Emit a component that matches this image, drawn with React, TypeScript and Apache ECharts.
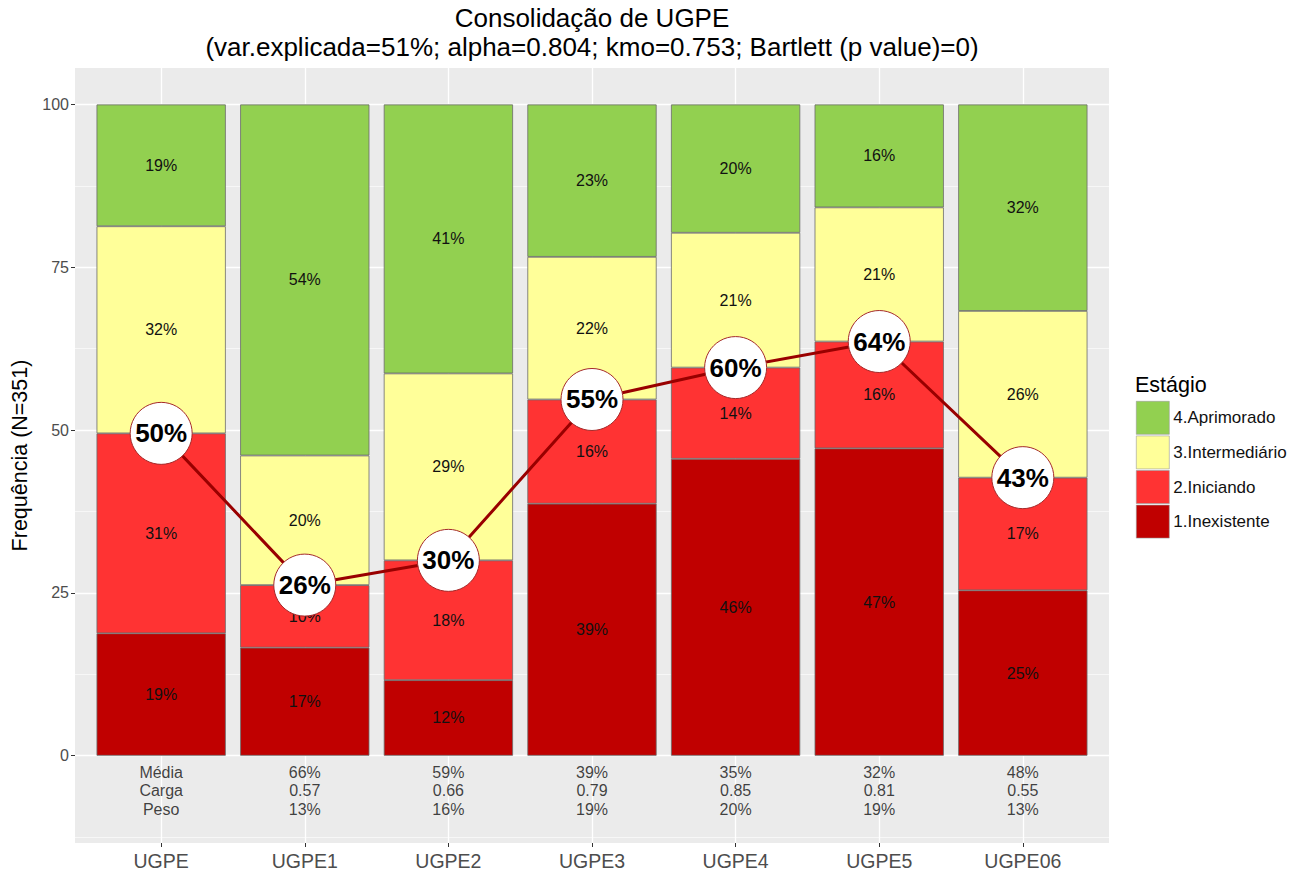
import React, { useEffect, useRef } from "react";
import * as echarts from "echarts";

const categories = ["UGPE", "UGPE1", "UGPE2", "UGPE3", "UGPE4", "UGPE5", "UGPE06"];
const inexistente = [18.8, 16.6, 11.6, 38.7, 45.6, 47.2, 25.4];
const iniciando = [30.7, 9.6, 18.4, 16.0, 14.0, 16.4, 17.3];
const intermediario = [31.8, 19.9, 28.7, 21.9, 20.7, 20.6, 25.6];
const aprimorado = [18.7, 53.9, 41.3, 23.4, 19.7, 15.8, 31.7];
const consolidacao = [49.5, 26.2, 30.0, 54.7, 59.6, 63.6, 42.7];

const tableRowNames = ["Média", "Carga", "Peso"];
const media = [66, 59, 39, 35, 32, 48];
const carga = [0.57, 0.66, 0.79, 0.85, 0.81, 0.55];
const peso = [13, 16, 19, 20, 19, 13];

const yTicks = [0, 25, 50, 75, 100];
const yMinor = [-12.5, 12.5, 37.5, 62.5, 87.5];

const FONT = "'Liberation Sans', Arial, Helvetica, sans-serif";

const Y_MIN = -13.4;
const Y_MAX = 105.6;
const X_MIN = -0.6;
const X_MAX = 6.6;
const PANEL_LEFT = 75;
const PANEL_RIGHT = 1109;
const UNIT = (PANEL_RIGHT - PANEL_LEFT) / (X_MAX - X_MIN);
const BAR_LEFT = PANEL_LEFT + (-0.5 - X_MIN) * UNIT;
const BAR_RIGHT = BAR_LEFT + categories.length * UNIT;

export default function App() {
  const ref = useRef<HTMLDivElement>(null);
  useEffect(() => {
    if (!ref.current) return;
    const chart = echarts.init(ref.current, undefined, { renderer: "svg" });
    const xIdx = categories.map((_, i) => i);
    const stackSeries = [
      { name: "1.Inexistente", data: inexistente, color: "#C00000" },
      { name: "2.Iniciando", data: iniciando, color: "#FF3333" },
      { name: "3.Intermediário", data: intermediario, color: "#FFFF99" },
      { name: "4.Aprimorado", data: aprimorado, color: "#92D050" },
    ].map((s) => ({
      name: s.name,
      type: "bar",
      stack: "total",
      xAxisIndex: 1,
      yAxisIndex: 1,
      barWidth: "90%",
      z: 2,
      data: s.data,
      itemStyle: { color: s.color, borderColor: "#6b6b6b", borderWidth: 0.8 },
      label: {
        show: true,
        position: "inside",
        color: "#111",
        fontSize: 16,
        fontFamily: FONT,
        formatter: (p: any) => Math.round(p.value) + "%",
      },
    }));

    const tableValues = [
      media.map((v) => v + "%"),
      carga.map((v) => v.toFixed(2)),
      peso.map((v) => v + "%"),
    ];
    const tableRowY = [-2.5, -5.4, -8.3];
    const tableSeries = tableRowNames.map((name, r) => ({
      name: "table" + r,
      type: "scatter",
      symbolSize: 1,
      z: 3,
      silent: true,
      itemStyle: { color: "rgba(0,0,0,0)" },
      data: xIdx.map((i) => [i, tableRowY[r]]),
      label: {
        show: true,
        position: "inside",
        color: "#111",
        fontSize: 16,
        fontFamily: FONT,
        formatter: (p: any) => (p.dataIndex === 0 ? name : tableValues[r][p.dataIndex - 1]),
      },
    }));

    const gridLines = {
      type: "scatter",
      name: "grid",
      data: [],
      z: 0,
      silent: true,
      markLine: {
        silent: true,
        z: 0,
        symbol: "none",
        animation: false,
        label: { show: false },
        data: [
          ...yMinor.map((v) => ({ yAxis: v, lineStyle: { color: "#ffffff", width: 0.6, type: "solid" } })),
          ...yTicks.map((v) => ({ yAxis: v, lineStyle: { color: "#ffffff", width: 1.3, type: "solid" } })),
          ...xIdx.map((v) => ({ xAxis: v, lineStyle: { color: "#ffffff", width: 1.3, type: "solid" } })),
        ],
      },
    };

    const option: any = {
      animation: false,
      textStyle: { fontFamily: FONT },
      grid: [
        {
          left: PANEL_LEFT,
          right: 1301 - PANEL_RIGHT,
          top: 68,
          bottom: 31,
          show: true,
          backgroundColor: "#EBEBEB",
          borderWidth: 0,
          borderColor: "transparent",
        },
        {
          left: BAR_LEFT,
          right: 1301 - BAR_RIGHT,
          top: 68,
          bottom: 31,
          show: false,
        },
      ],
      xAxis: [
        {
          type: "value",
          gridIndex: 0,
          min: X_MIN,
          max: X_MAX,
          splitLine: { show: false },
          axisLine: { show: false, onZero: false },
          axisTick: { show: true, length: 4, lineStyle: { color: "#333" }, customValues: xIdx },
          axisLabel: {
            customValues: xIdx,
            color: "#4D4D4D",
            fontSize: 19.5,
            fontFamily: FONT,
            margin: 8,
            formatter: (v: number) => categories[Math.round(v)] ?? "",
          },
        },
        {
          type: "category",
          gridIndex: 1,
          data: categories,
          show: false,
        },
      ],
      yAxis: [
        {
          type: "value",
          gridIndex: 0,
          min: Y_MIN,
          max: Y_MAX,
          name: "Frequência (N=351)",
          nameLocation: "middle",
          nameGap: 44,
          nameTextStyle: { color: "#000", fontSize: 21.5, fontFamily: FONT },
          splitLine: { show: false },
          axisLine: { show: false, onZero: false },
          axisTick: { show: true, length: 4, lineStyle: { color: "#333" }, customValues: yTicks },
          axisLabel: {
            customValues: yTicks,
            color: "#4D4D4D",
            fontSize: 16,
            fontFamily: FONT,
            margin: 6,
          },
        },
        {
          type: "value",
          gridIndex: 1,
          min: Y_MIN,
          max: Y_MAX,
          show: false,
          splitLine: { show: false },
        },
      ],
      legend: {
        orient: "vertical",
        left: 1136,
        top: 401,
        padding: 0,
        itemWidth: 33,
        itemHeight: 33,
        itemGap: 1,
        icon: "rect",
        data: ["4.Aprimorado", "3.Intermediário", "2.Iniciando", "1.Inexistente"],
        textStyle: { color: "#111", fontSize: 17, fontFamily: FONT, padding: [0, 0, 0, -1] },
        itemStyle: { borderColor: "#9a9a9a", borderWidth: 0.6 },
        selectedMode: false,
      },
      graphic: [
        {
          type: "text",
          x: 592,
          y: 18,
          style: {
            text: "Consolidação de UGPE",
            fill: "#000",
            font: `26px ${FONT}`,
            textAlign: "center",
            textVerticalAlign: "middle",
          },
        },
        {
          type: "text",
          x: 592,
          y: 47,
          style: {
            text: "(var.explicada=51%; alpha=0.804; kmo=0.753; Bartlett (p value)=0)",
            fill: "#000",
            font: `26px ${FONT}`,
            textAlign: "center",
            textVerticalAlign: "middle",
          },
        },
        {
          type: "text",
          x: 1135,
          y: 385,
          style: {
            text: "Estágio",
            fill: "#000",
            font: `21.5px ${FONT}`,
            textAlign: "left",
            textVerticalAlign: "middle",
          },
        },
      ],
      series: [
        gridLines,
        ...stackSeries,
        {
          name: "Consolidação",
          type: "line",
          z: 5,
          data: consolidacao.map((v, i) => [i, v]),
          symbol: "circle",
          symbolSize: 62,
          lineStyle: { color: "#990000", width: 3 },
          itemStyle: { color: "#ffffff", borderColor: "#A52A2A", borderWidth: 1 },
          label: {
            show: true,
            position: "inside",
            color: "#000",
            fontSize: 26,
            fontWeight: "bold",
            fontFamily: FONT,
            formatter: (p: any) => Math.round(p.value[1]) + "%",
          },
        },
        ...tableSeries,
      ],
    };
    chart.setOption(option);
    return () => chart.dispose();
  }, []);
  return (
    <div
      ref={ref}
      style={{ position: "fixed", left: 0, top: 0, width: 1301, height: 874, background: "#fff" }}
    />
  );
}
